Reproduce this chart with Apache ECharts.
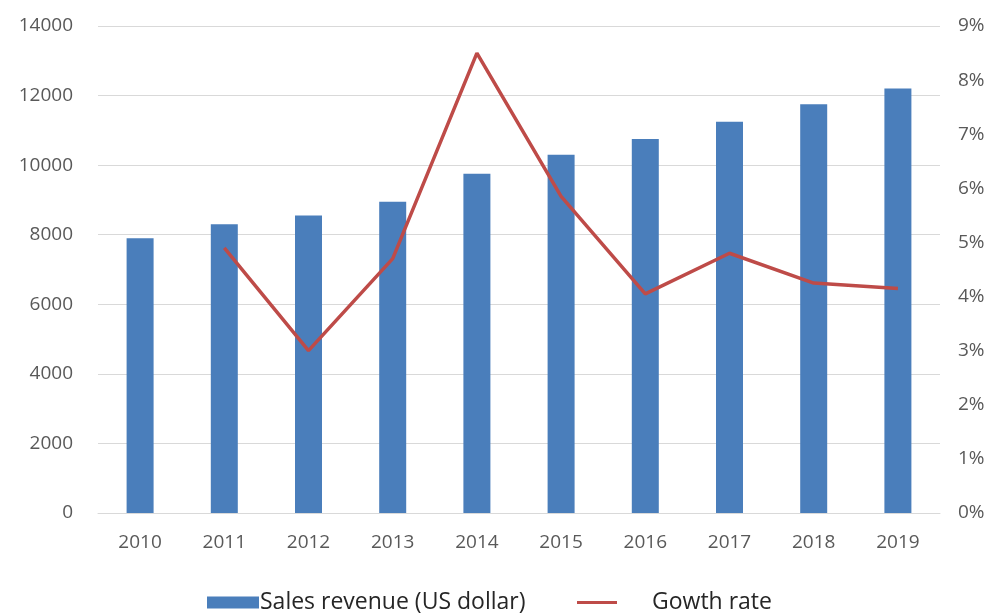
<!DOCTYPE html>
<html>
<head>
<meta charset="utf-8">
<script src="https://cdn.jsdelivr.net/npm/echarts@6/dist/echarts.min.js"></script>
<style>html,body{margin:0;padding:0;background:#fff;}#c{width:997px;height:615px;}</style>
</head>
<body>
<div id="c"></div>
<script>
const years = ['2010','2011','2012','2013','2014','2015','2016','2017','2018','2019'];
const revenue = [7900, 8300, 8550, 8950, 9750, 10300, 10750, 11250, 11750, 12200];
const growth = [null, 4.9, 3.0, 4.7, 8.5, 5.85, 4.05, 4.8, 4.25, 4.15];
const leftTicks = [0, 14000, 2000];
const rightTicks = [0, 9, 1];

const font = 'Open Sans';
const chart = echarts.init(document.getElementById('c'));
chart.setOption({
  animation: false,
  backgroundColor: '#fff',
  grid: { left: 98, right: 57, top: 26, bottom: 102 },
  legend: [
    { data: [{ name: 'Sales revenue (US dollar)', icon: 'rect' }], left: 202, top: 586, itemWidth: 52, itemHeight: 12, itemGap: 2,
      textStyle: { fontFamily: font, fontSize: 23, color: '#262626', padding: [0,0,0,-4] } },
    { data: [{ name: 'Gowth rate', icon: 'rect' }], left: 572, top: 586, itemWidth: 40, itemHeight: 3,
      textStyle: { fontFamily: font, fontSize: 23, color: '#262626', padding: [0,0,0,30] } }
  ],
  xAxis: {
    type: 'category', data: years,
    axisLine: { lineStyle: { color: '#D9D9D9', width: 1 } },
    axisTick: { show: false },
    axisLabel: { fontFamily: font, fontSize: 19, color: '#595959', margin: 20 }
  },
  yAxis: [
    { type: 'value', min: leftTicks[0], max: leftTicks[1], interval: leftTicks[2],
      axisLine: { show: false }, axisTick: { show: false },
      splitLine: { lineStyle: { color: '#D9D9D9' } },
      axisLabel: { fontFamily: font, fontSize: 19, color: '#595959', margin: 25, formatter: v => String(v) } },
    { type: 'value', min: rightTicks[0], max: rightTicks[1], interval: rightTicks[2],
      axisLine: { show: false }, axisTick: { show: false }, splitLine: { show: false },
      axisLabel: { fontFamily: font, fontSize: 19, color: '#595959', margin: 18, formatter: '{value}%' } }
  ],
  series: [
    { name: 'Sales revenue (US dollar)', type: 'bar', data: revenue, barWidth: 27,
      itemStyle: { color: '#4A7EBB' } },
    { name: 'Gowth rate', type: 'line', yAxisIndex: 1, data: growth, symbol: 'none',
      lineStyle: { color: '#BE4B48', width: 3.5 }, itemStyle: { color: '#BE4B48' } }
  ]
});
</script>
</body>
</html>
